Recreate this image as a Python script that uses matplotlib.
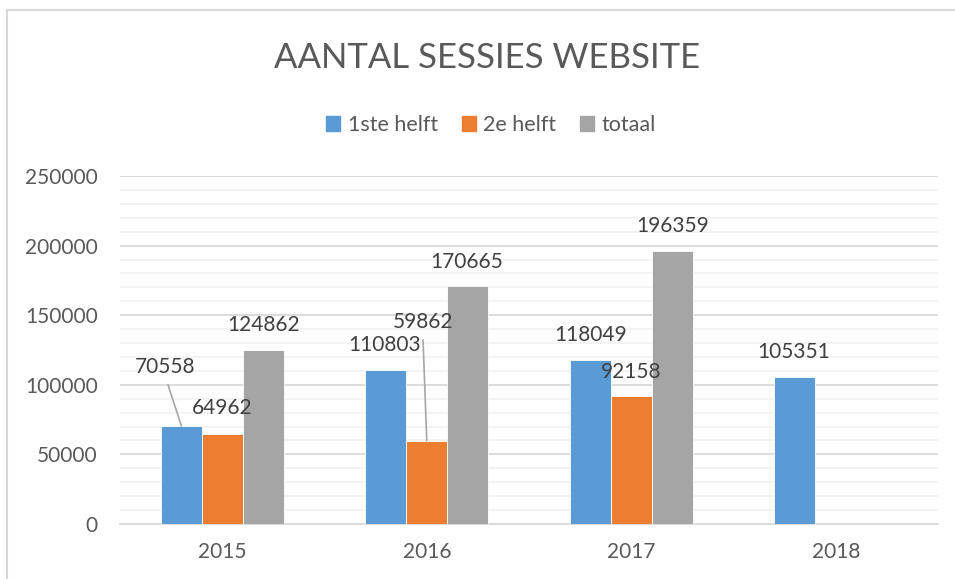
import numpy as np
import matplotlib
matplotlib.use("Agg")
import matplotlib.pyplot as plt
from matplotlib.lines import Line2D
from matplotlib.ticker import MultipleLocator

plt.rcParams['font.family'] = ['Lato', 'DejaVu Sans']

title = "AANTAL SESSIES WEBSITE"
years = ["2015", "2016", "2017", "2018"]
series_names = ["1ste helft", "2e helft", "totaal"]
eerste_helft = [70558, 110803, 118049, 105351]
tweede_helft = [64962, 59862, 92158, np.nan]
totaal = [124862, 170665, 196359, np.nan]
colors = ["#5B9BD5", "#ED7D31", "#A5A5A5"]

W, H = 955, 579
fig = plt.figure(figsize=(W / 100, H / 100), dpi=100)
ax = fig.add_axes([120 / W, 1 - 524 / H, (938 - 120) / W, (524 - 176) / H])

x = np.arange(len(years))
width = 0.2
all_series = [eerste_helft, tweede_helft, totaal]
bars = []
for i, (vals, col, name) in enumerate(zip(all_series, colors, series_names)):
    b = ax.bar(x + (i - 1) * width, vals, width, color=col, label=name,
               edgecolor="white", linewidth=0.6, zorder=3)
    bars.append(b)

ax.set_xlim(-0.5, len(years) - 0.5)
ax.set_ylim(0, 250000)
ax.yaxis.set_major_locator(MultipleLocator(50000))
ax.yaxis.set_minor_locator(MultipleLocator(10000))
ax.grid(which="major", axis="y", color="#D9D9D9", linewidth=1.3, zorder=0)
ax.grid(which="minor", axis="y", color="#F2F2F2", linewidth=1.3, zorder=0)
for s in ["top", "right", "left"]:
    ax.spines[s].set_visible(False)
ax.spines["bottom"].set_color("#D9D9D9")
ax.spines["bottom"].set_linewidth(1.3)
ax.set_xticks(x)
ax.set_xticklabels(years)
ax.tick_params(axis="both", which="both", length=0, colors="#595959", labelsize=15)
ax.tick_params(axis="x", pad=13)
ax.tick_params(axis="y", pad=16)
ax.set_axisbelow(True)

# data labels (offsets in pixels from bar top centre)
offsets = {
    (0, 0): (-16, 59), (1, 0): (0, 26), (2, 0): (0, 25),
    (0, 1): (-1, 25), (1, 1): (-4, 119), (2, 1): (-1, 24),
    (0, 2): (0, 25), (1, 2): (0, 24), (2, 2): (0, 25),
    (0, 3): (-1, 25),
}
leaders = {(0, 0), (1, 1)}
for si, b in enumerate(bars):
    vals = all_series[si]
    for ci, rect in enumerate(b):
        v = vals[ci]
        if v is None or np.isnan(v):
            continue
        dx, dy = offsets.get((si, ci), (0, 25))
        cx = rect.get_x() + rect.get_width() / 2
        kw = {}
        if (si, ci) in leaders:
            kw["arrowprops"] = dict(arrowstyle="-", color="#A6A6A6", lw=1.2,
                                    shrinkA=4, shrinkB=0, relpos=(0.5, 0.0))
        ax.annotate(f"{int(v)}", xy=(cx, v), xytext=(dx, dy),
                    textcoords="offset pixels", ha="center", va="center",
                    fontsize=15, color="#404040", zorder=5, **kw)

fig.text(487 / W, 1 - 58 / H, title, ha="center", va="center",
         fontsize=25, color="#595959", fontweight="normal")

handles = [plt.Rectangle((0, 0), 1, 1, color=c) for c in colors]
fig.legend(handles, series_names, loc="center", bbox_to_anchor=(491 / W, 1 - 125 / H),
           ncol=3, frameon=False, fontsize=15.5, labelcolor="#595959",
           handlelength=0.65, handleheight=0.65, handletextpad=0.35, columnspacing=1.1)

# chart border (top and left visible in crop)
fig.add_artist(Line2D([7 / W, 1], [1 - 10 / H, 1 - 10 / H], color="#D9D9D9", lw=1.5,
                      transform=fig.transFigure))
fig.add_artist(Line2D([7 / W, 7 / W], [0, 1 - 10 / H], color="#D9D9D9", lw=1.5,
                      transform=fig.transFigure))

fig.savefig("out.png", dpi=100, facecolor="white")
